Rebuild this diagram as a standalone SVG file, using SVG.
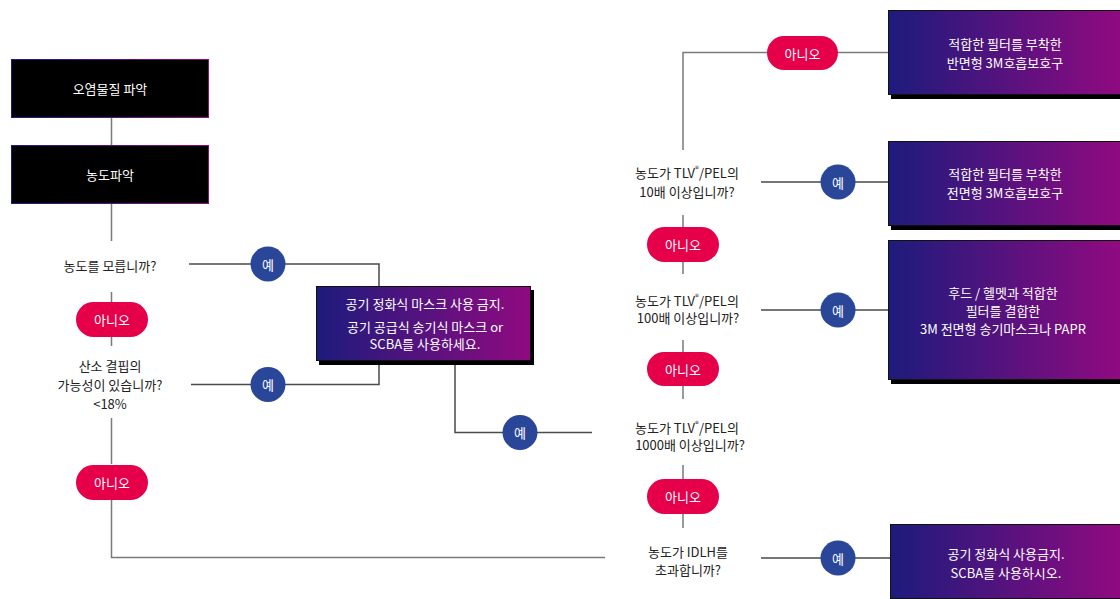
<svg xmlns="http://www.w3.org/2000/svg" width="1120" height="599" viewBox="0 0 1120 599">
<defs>
<linearGradient id="grad" x1="0" y1="0" x2="1" y2="0">
<stop offset="0" stop-color="#1d1b7c"/>
<stop offset="1" stop-color="#900a80"/>
</linearGradient>
<style>
text{font-family:"Noto Sans CJK KR","Noto Sans",sans-serif;font-size:13px;text-anchor:middle;dominant-baseline:central}
.q{fill:#222}
.w{fill:#fff}
.v{stroke:#7a7a7a;stroke-width:1.5;fill:none}
.h{stroke:#4a4a4a;stroke-width:1.5;fill:none}
.no{fill:#e6004a}
.yes{fill:#2a4699}
.blk{fill:#000;stroke:url(#grad);stroke-width:1}
.gb{fill:url(#grad);stroke:#111;stroke-width:1}
.sh{fill:#000}
</style>
</defs>
<rect width="1120" height="599" fill="#fff"/>
<g id="connectors">
<path class="v" d="M111.5 117V145M111.5 203V241M111.5 292V302M111.5 337V346M111.5 418V464M111.5 499V557.5H605"/>
<path class="h" d="M189 264H379V286M191 384.5H379V361M455 361V432.5H592"/>
<path class="v" d="M683 150V52.5H888"/>
<path class="h" d="M761 182H888M761 310H888M761 558H890"/>
<path class="v" d="M683 215V227M683 262V274M683 340V352M683 386V399M683 465V479M683 514V528"/>
</g>
<g id="n1"><rect class="blk" x="11.5" y="59.5" width="197" height="58"/><text class="w" x="110" y="88">오염물질 파악</text></g>
<g id="n2"><rect class="blk" x="11.5" y="145.5" width="197" height="58"/><text class="w" x="110" y="174">농도파악</text></g>
<g id="q1"><text class="q" x="110" y="265">농도를 모릅니까?</text></g>
<g id="no1"><rect class="no" x="76" y="302" width="72" height="35" rx="17.5"/><text class="w" x="112" y="319.5">아니오</text></g>
<g id="q2"><text class="q" x="110" y="365">산소 결핍의</text><text class="q" x="110" y="384">가능성이 있습니까?</text><text class="q" x="110" y="403">&lt;18%</text></g>
<g id="no2"><rect class="no" x="76" y="465" width="72" height="35" rx="17.5"/><text class="w" x="112" y="482.5">아니오</text></g>
<g id="y1"><circle class="yes" cx="268" cy="264" r="17.5"/><text class="w" x="268" y="264">예</text></g>
<g id="y2"><circle class="yes" cx="268" cy="384.5" r="17.5"/><text class="w" x="268" y="384.5">예</text></g>
<g id="center">
<rect class="sh" x="319" y="290" width="215" height="75"/>
<rect class="gb" x="316.5" y="286.5" width="214" height="74"/>
<text class="w" x="425" y="303">공기 정화식 마스크 사용 금지.</text>
<text class="w" x="425" y="326.5">공기 공급식 송기식 마스크 or</text>
<text class="w" x="425" y="343.5">SCBA를 사용하세요.</text>
</g>
<g id="y3"><circle class="yes" cx="520" cy="432.5" r="17.5"/><text class="w" x="520" y="432.5">예</text></g>
<g id="no3"><rect class="no" x="767" y="36" width="71" height="34" rx="17"/><text class="w" x="802.5" y="53">아니오</text></g>
<g id="r1">
<rect class="sh" x="891" y="14" width="229" height="85"/>
<rect class="gb" x="888.5" y="10.5" width="232" height="84"/>
<text class="w" x="1005" y="43">적합한 필터를 부착한</text>
<text class="w" x="1005" y="62">반면형 3M호흡보호구</text>
</g>
<g id="q3"><text class="q" x="687" y="172">농도가 TLV<tspan font-size="8" dy="-4">®</tspan><tspan dy="4">/PEL의</tspan></text><text class="q" x="687" y="191">10배 이상입니까?</text></g>
<g id="y4"><circle class="yes" cx="838" cy="182" r="17.5"/><text class="w" x="838" y="182">예</text></g>
<g id="r2">
<rect class="sh" x="891" y="145" width="229" height="85"/>
<rect class="gb" x="888.5" y="141.5" width="232" height="84"/>
<text class="w" x="1005" y="173">적합한 필터를 부착한</text>
<text class="w" x="1005" y="192">전면형 3M호흡보호구</text>
</g>
<g id="no4"><rect class="no" x="647" y="227" width="72" height="35" rx="17.5"/><text class="w" x="683" y="244.5">아니오</text></g>
<g id="q4"><text class="q" x="687" y="300">농도가 TLV<tspan font-size="8" dy="-4">®</tspan><tspan dy="4">/PEL의</tspan></text><text class="q" x="688" y="317">100배 이상입니까?</text></g>
<g id="y5"><circle class="yes" cx="838" cy="310" r="17.5"/><text class="w" x="838" y="310">예</text></g>
<g id="r3">
<rect class="sh" x="891" y="244" width="229" height="140"/>
<rect class="gb" x="888.5" y="240.5" width="232" height="139"/>
<text class="w" x="1003" y="292">후드 / 헬멧과 적합한</text>
<text class="w" x="1003" y="310">필터를 결합한</text>
<text class="w" x="1003" y="328">3M 전면형 송기마스크나 PAPR</text>
</g>
<g id="no5"><rect class="no" x="647" y="352" width="72" height="34" rx="17"/><text class="w" x="683" y="369">아니오</text></g>
<g id="q5"><text class="q" x="687" y="427">농도가 TLV<tspan font-size="8" dy="-4">®</tspan><tspan dy="4">/PEL의</tspan></text><text class="q" x="690" y="444">1000배 이상입니까?</text></g>
<g id="no6"><rect class="no" x="647" y="479" width="72" height="35" rx="17.5"/><text class="w" x="683" y="496.5">아니오</text></g>
<g id="q6"><text class="q" x="688" y="551">농도가 IDLH를</text><text class="q" x="688" y="569">초과합니까?</text></g>
<g id="y6"><circle class="yes" cx="838" cy="558" r="17.5"/><text class="w" x="838" y="558">예</text></g>
<g id="r4">
<rect class="sh" x="893" y="528" width="227" height="74"/>
<rect class="gb" x="890.5" y="524.5" width="230" height="74"/>
<text class="w" x="1006" y="553">공기 정화식 사용금지.</text>
<text class="w" x="1006" y="572">SCBA를 사용하시오.</text>
</g>
</svg>
